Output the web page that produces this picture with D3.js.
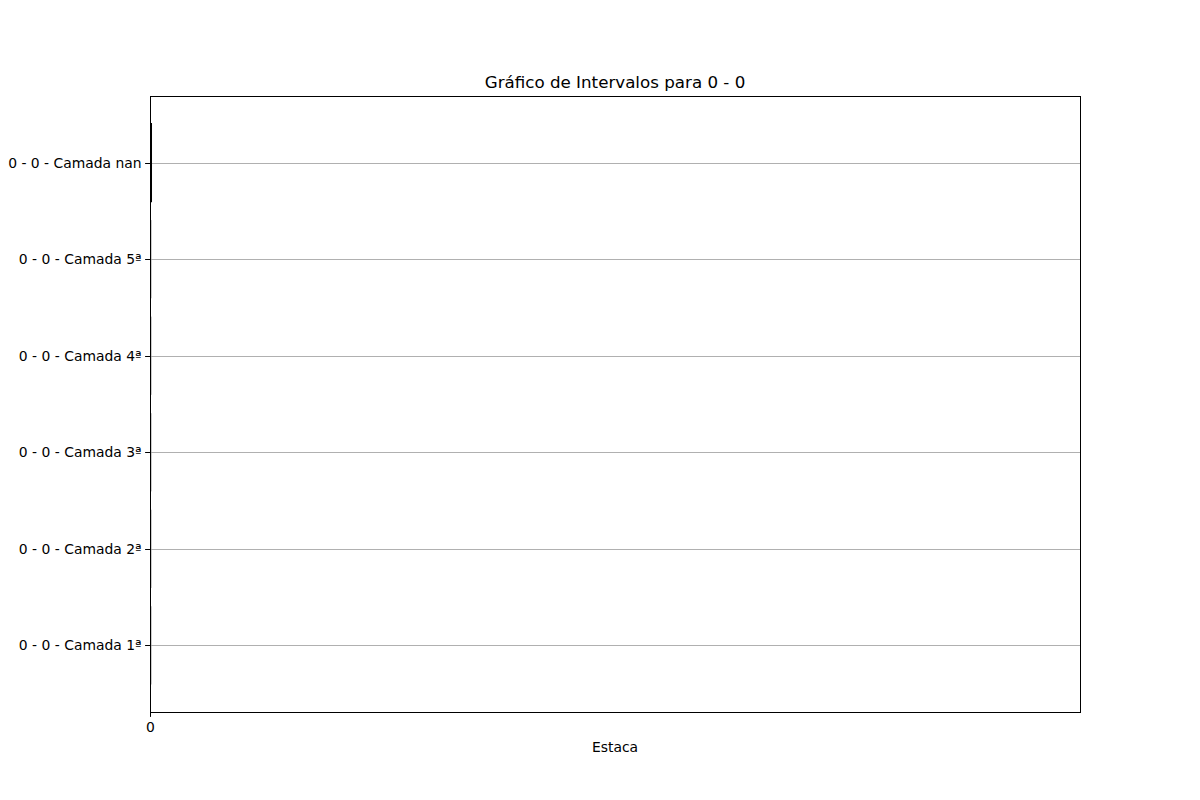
<!DOCTYPE html>
<html><head><meta charset="utf-8">
<script src="https://cdn.jsdelivr.net/npm/d3@7"></script>
<style>body{margin:0;background:#fff;} text{font-family:"DejaVu Sans",sans-serif;}</style>
</head><body>
<svg id="chart" width="1200" height="800"></svg>
<script>
const categories = ["0 - 0 - Camada 1ª","0 - 0 - Camada 2ª","0 - 0 - Camada 3ª","0 - 0 - Camada 4ª","0 - 0 - Camada 5ª","0 - 0 - Camada nan"];
const starts = [0,0,0,0,0,0];
const widths = [0,0,0,0,0,0];
const intervalCounts = [1,1,1,1,1,6];
const xTicks = [0];
const titleText = "Gráfico de Intervalos para 0 - 0";
const xLabel = "Estaca";

const svg = d3.select("#chart");
const L=150,R=1080,T=96,B=712;
const x = d3.scaleLinear().domain([0,1]).range([L,R]);
const y = d3.scaleLinear().domain([-0.69,5.69]).range([B,T]);

// grid
svg.append("g").selectAll("line").data(categories).join("line")
  .attr("x1",L).attr("x2",R)
  .attr("y1",(d,i)=>Math.round(y(i))+0.5).attr("y2",(d,i)=>Math.round(y(i))+0.5)
  .attr("stroke","#b0b0b0").attr("stroke-width",1);

// bars
svg.append("g").selectAll("rect").data(categories).join("rect")
  .attr("x",(d,i)=>x(starts[i]))
  .attr("width",(d,i)=>Math.max(0.01,x(starts[i]+widths[i])-x(starts[i])))
  .attr("y",(d,i)=>y(i+0.4))
  .attr("height",(d,i)=>y(i-0.4)-y(i+0.4))
  .attr("fill","none")
  .attr("stroke",(d,i)=>intervalCounts[i]>1?"#000":"#999")
  .attr("stroke-width",(d,i)=>intervalCounts[i]>1?2:1)
  .attr("transform","translate(1,0)");

// axes
const yAxis = d3.axisLeft(y).tickValues(d3.range(categories.length)).tickFormat(i=>categories[i]).tickSizeOuter(0).tickSize(4.9).tickPadding(3.5);
const gy = svg.append("g").attr("transform",`translate(${L},0)`).call(yAxis);
gy.selectAll(".tick").attr("transform",(d)=>`translate(0,${Math.round(y(d))+0.5})`);
const xAxis = d3.axisBottom(x).tickValues(xTicks).tickFormat(d3.format("d")).tickSizeOuter(0).tickSize(4.9).tickPadding(5);
const gx = svg.append("g").attr("transform",`translate(0,${B})`).call(xAxis);
gx.selectAll(".tick").attr("transform",(d)=>`translate(${Math.round(x(d))+0.5},0)`);
[gx,gy].forEach(g=>{g.select(".domain").remove();g.selectAll("text").attr("font-size","13.9px").attr("font-family","DejaVu Sans").attr("fill","#000");g.selectAll("line").attr("stroke","#000").attr("stroke-width",1);});

// frame
svg.append("rect").attr("x",L+0.5).attr("y",T+0.5).attr("width",R-L).attr("height",B-T)
  .attr("fill","none").attr("stroke","#000").attr("stroke-width",1);

svg.append("text").attr("x",(L+R)/2).attr("y",88).attr("text-anchor","middle")
  .attr("font-size","16.7px").text(titleText);
svg.append("text").attr("x",(L+R)/2).attr("y",752).attr("text-anchor","middle")
  .attr("font-size","13.9px").text(xLabel);
</script>
</body></html>
